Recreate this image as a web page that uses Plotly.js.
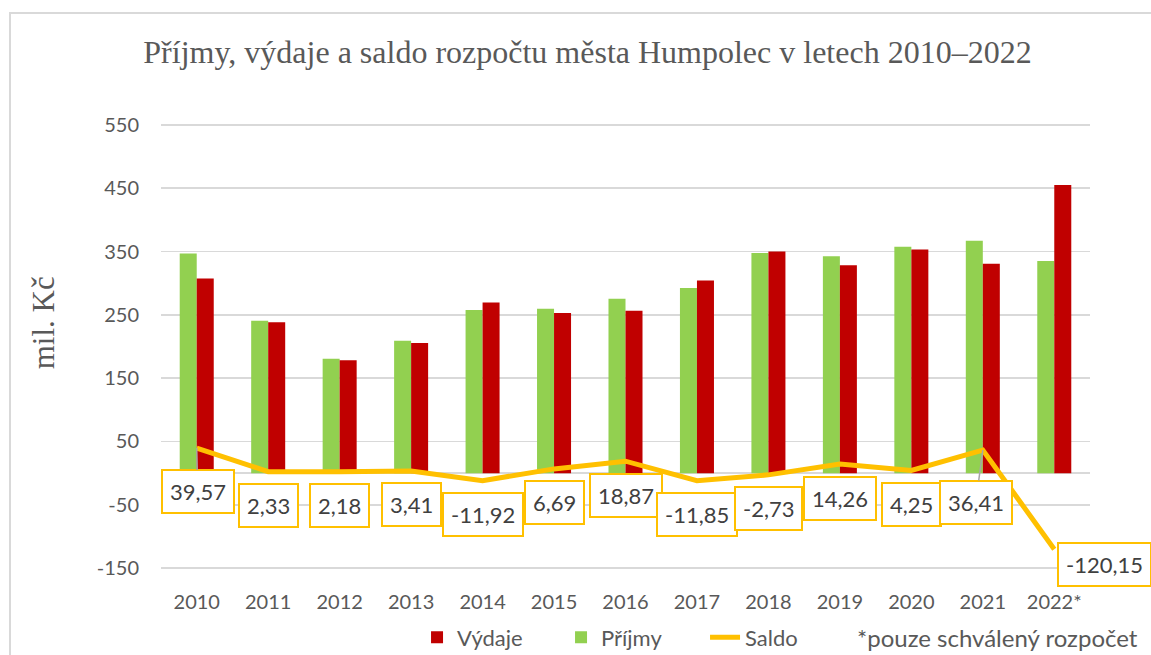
<!DOCTYPE html>
<html>
<head>
<meta charset="utf-8">
<script src="https://cdn.plot.ly/plotly-3.0.1.min.js"></script>
<style>
  html, body { margin: 0; padding: 0; overflow: hidden; background: #ffffff; }
  #chart { position: absolute; left: 0; top: 0; width: 1151px; height: 655px; }
  #frame { position: absolute; left: 9px; top: 12px; width: 2000px; height: 2000px;
           border-left: 2px solid #D9D9D9; border-top: 2px solid #D9D9D9;
           pointer-events: none; z-index: 10; }
</style>
</head>
<body>
<div id="chart"></div>
<div id="frame"></div>
<script>
// ---- data ----
const years = ["2010", "2011", "2012", "2013", "2014", "2015", "2016", "2017", "2018", "2019", "2020", "2021", "2022*"];
const prijmy = [347, 240.5, 180.5, 209, 257.5, 259.5, 275.5, 292.5, 347.5, 342.5, 357.5, 367, 335];
const vydaje = [307.4, 238.2, 178.3, 205.6, 269.4, 252.8, 256.6, 304.4, 350.2, 328.2, 353.3, 330.6, 455.2];
const saldo = [39.57, 2.33, 2.18, 3.41, -11.92, 6.69, 18.87, -11.85, -2.73, 14.26, 4.25, 36.41, -120.15];
const yTicks = [-150, -50, 50, 150, 250, 350, 450, 550];

// ---- label placement (pixels, relative to point) ----
const labelDX = [1, 0, 0, 0, 0, 0, 0, 0, 0, 0, 0, -7, 50];
const labelDY = [43.5, 34, 34, 34, 34, 34, 34, 34, 34, 34, 34, 52, 15];
const leader = [true, false, false, false, false, false, false, false, false, false, false, true, false];

const FONT = "Lato, 'Open Sans', sans-serif";
const SERIF = "'Liberation Serif', 'Times New Roman', serif";
const TXT = "#595959";

function fmt(v) { return v.toFixed(2).replace(".", ","); }

const traces = [
  { type: "bar", name: "Příjmy", x: years, y: prijmy,
    marker: { color: "#92D050", line: { width: 0 } }, legendrank: 2, hoverinfo: "x+y" },
  { type: "bar", name: "Výdaje", x: years, y: vydaje,
    marker: { color: "#C00000", line: { width: 0 } }, legendrank: 1, hoverinfo: "x+y" },
  { type: "scatter", mode: "lines", name: "Saldo", x: years, y: saldo,
    line: { color: "#FFC000", width: 5 }, legendrank: 3, hoverinfo: "x+y" }
];

// category axis: annotations use the category index
const annotations = saldo.map((v, i) => {
  const a = {
    x: i, y: v, xref: "x", yref: "y",
    text: fmt(v),
    font: { family: FONT, size: 22, color: "#404040" },
    bgcolor: "#ffffff", bordercolor: "#FFC000", borderwidth: 2, borderpad: 7
  };
  if (leader[i]) {
    a.showarrow = true; a.arrowhead = 0; a.arrowwidth = 1.5; a.arrowcolor = "#A6A6A6";
    a.ax = labelDX[i]; a.ay = labelDY[i]; a.standoff = 0;
  } else {
    a.showarrow = false; a.xshift = labelDX[i]; a.yshift = -labelDY[i];
  }
  return a;
});

annotations.push({
  xref: "paper", yref: "paper", x: -0.1265, y: 0.553, xanchor: "center", yanchor: "middle",
  text: "mil. Kč", textangle: -90, showarrow: false,
  font: { family: SERIF, size: 31, color: TXT }
});
annotations.push({
  xref: "paper", yref: "paper", x: 1.054, y: -0.151, xanchor: "right", yanchor: "middle",
  text: "*pouze schválený rozpočet", showarrow: false,
  font: { family: FONT, size: 24, color: TXT }
});

const layout = {
  width: 1151, height: 655,
  margin: { l: 161, r: 61, t: 123, b: 85, autoexpand: false },
  paper_bgcolor: "#ffffff", plot_bgcolor: "#ffffff",
  title: {
    text: "Příjmy, výdaje a saldo rozpočtu města Humpolec v letech 2010–2022",
    font: { family: SERIF, size: 32, color: TXT },
    x: 0.5104, xref: "container", xanchor: "center",
    y: 0.9206, yref: "container", yanchor: "middle"
  },
  barmode: "group", bargap: 0.524, bargroupgap: 0,
  xaxis: {
    type: "category", range: [-0.5, years.length - 0.5], autorange: false,
    showgrid: false, showline: false, ticks: "",
    tickfont: { family: FONT, size: 20, color: TXT },
    ticklabelstandoff: 18, fixedrange: true
  },
  yaxis: {
    range: [-153, 553], autorange: false, tickvals: yTicks, ticktext: yTicks.map(String),
    showgrid: true, gridcolor: "#D9D9D9", gridwidth: 1.5,
    zeroline: true, zerolinecolor: "#D9D9D9", zerolinewidth: 1.5,
    showline: false, ticks: "",
    tickfont: { family: FONT, size: 20, color: TXT },
    ticklabelstandoff: 21, fixedrange: true
  },
  showlegend: true,
  legend: {
    orientation: "h", x: 0.2756, xanchor: "left", y: -0.151, yanchor: "middle",
    font: { family: FONT, size: 22, color: TXT },
    entrywidth: 99, entrywidthmode: "pixels",
    traceorder: "normal", bgcolor: "rgba(0,0,0,0)"
  },
  annotations: annotations
};

Plotly.newPlot("chart", traces, layout, { displayModeBar: false, staticPlot: true });
</script>
</body>
</html>
